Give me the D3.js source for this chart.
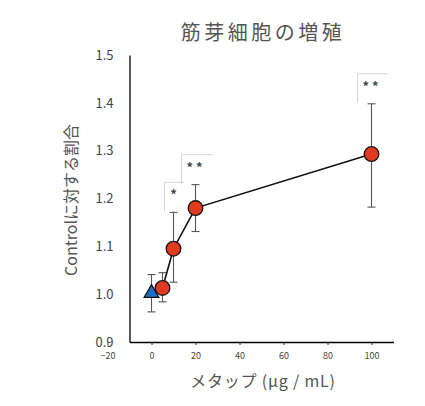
<!DOCTYPE html>
<html>
<head>
<meta charset="utf-8">
<script src="https://cdn.jsdelivr.net/npm/d3@7"></script>
<style>
  body { margin: 0; background: #fff; }
  text { font-family: "Noto Sans CJK JP", "Liberation Sans", sans-serif; }
</style>
</head>
<body>
<div id="plot"></div>
<script>
// data
const doses = [5, 10, 20, 100];
const means = [1.013, 1.095, 1.180, 1.293];
const errHi = [1.045, 1.171, 1.229, 1.398];
const errLo = [0.984, 1.025, 1.131, 1.182];
const signif = ["", "*", "* *", "* *"];

const controlX = 0;
const controlMean = 1.0;
const controlHi = 1.041;
const controlLo = 0.963;

const xTicks = [-20, 0, 20, 40, 60, 80, 100];
const yTicks = [0.9, 1.0, 1.1, 1.2, 1.3, 1.4, 1.5];

const w = 425;
const h = 406;

const x = d3.scaleLinear().domain([-10, 110]).range([129.5, 393.5]);
const y = d3.scaleLinear().domain([0.9, 1.5]).range([342, 55]);

const svg = d3.select("#plot")
  .append("svg")
  .attr("width", w)
  .attr("height", h);

//-------------------axes---------------------------
const xAxis = svg.append("g")
  .attr("transform", "translate(0," + y(0.9) + ")")
  .call(d3.axisBottom(x).tickValues(xTicks).tickSize(3).tickSizeOuter(0).tickFormat(d3.format("d")));
xAxis.select(".domain").attr("stroke", "#000").attr("stroke-width", 1.3);
xAxis.selectAll(".tick line").attr("stroke", "#333");
xAxis.selectAll("text").attr("font-size", 9).attr("fill", "#444")
  .attr("font-family", "Liberation Sans").attr("dy", "1.25em");

const yAxis = svg.append("g")
  .attr("transform", "translate(" + x(-10) + ",0)")
  .call(d3.axisLeft(y).tickValues(yTicks).tickSize(0).tickPadding(16).tickFormat(d3.format(".1f")));
yAxis.select(".domain").attr("stroke", "#000").attr("stroke-width", 1.3);
yAxis.selectAll("text").attr("font-size", 13).attr("fill", "#444")
  .attr("font-family", "Liberation Sans");

//-------------------labels---------------------------
svg.append("text")
  .attr("x", 263).attr("y", 40)
  .attr("text-anchor", "middle")
  .attr("font-size", 20)
  .attr("letter-spacing", 3.5)
  .attr("fill", "#555")
  .text("筋芽細胞の増殖");

svg.append("text")
  .attr("x", 263).attr("y", 387)
  .attr("text-anchor", "middle")
  .attr("font-size", 16)
  .attr("letter-spacing", 0.8)
  .attr("fill", "#555")
  .text("メタップ (µg / mL)");

svg.append("text")
  .attr("transform", "translate(77,200) rotate(-90)")
  .attr("text-anchor", "middle")
  .attr("font-size", 16)
  .attr("fill", "#555")
  .text("Controlに対する割合");

//-------------------error bars---------------------------
const bars = doses.map((d, i) => ({x: d, hi: errHi[i], lo: errLo[i]}));
bars.unshift({x: controlX, hi: controlHi, lo: controlLo});

const eb = svg.append("g").attr("stroke", "#555").attr("stroke-width", 1.1);
eb.selectAll(".stem").data(bars).enter().append("line")
  .attr("x1", d => x(d.x)).attr("x2", d => x(d.x))
  .attr("y1", d => y(d.hi)).attr("y2", d => y(d.lo));
eb.selectAll(".capHi").data(bars).enter().append("line")
  .attr("x1", d => x(d.x) - 4).attr("x2", d => x(d.x) + 4)
  .attr("y1", d => y(d.hi)).attr("y2", d => y(d.hi));
eb.selectAll(".capLo").data(bars).enter().append("line")
  .attr("x1", d => x(d.x) - 4).attr("x2", d => x(d.x) + 4)
  .attr("y1", d => y(d.lo)).attr("y2", d => y(d.lo));

//-------------------significance marks---------------------------
const marks = doses.map((d, i) => ({x: d, hi: errHi[i], s: signif[i]})).filter(d => d.s);
const mg = svg.append("g");
marks.forEach(d => {
  const cx = x(d.x);
  const top = y(d.hi) - 30;
  const wide = d.s.length > 1;
  const left = cx - (wide ? 14 : 9);
  const right = left + (wide ? 31 : 20);
  mg.append("path")
    .attr("d", "M" + left + "," + (top + 29) + "V" + top + "H" + right)
    .attr("fill", "none")
    .attr("stroke", "#ccc")
    .attr("stroke-width", 0.8);
  mg.append("text")
    .attr("x", wide ? cx - 1 : cx)
    .attr("y", top + 17)
    .attr("text-anchor", "middle")
    .attr("font-size", 13)
    .attr("font-weight", "bold")
    .attr("fill", "#444")
    .attr("font-family", "Liberation Sans")
    .text(d.s);
});

//-------------------line and markers---------------------------
const pts = doses.map((d, i) => [d, means[i]]);
svg.append("path")
  .datum(pts)
  .attr("d", d3.line().x(d => x(d[0])).y(d => y(d[1])))
  .attr("fill", "none")
  .attr("stroke", "#111")
  .attr("stroke-width", 1.6);

svg.append("path")
  .attr("d", d3.symbol().type(d3.symbolTriangle).size(95)())
  .attr("transform", "translate(" + x(controlX) + "," + (y(controlMean) - 1) + ")")
  .attr("fill", "#1f6cc4")
  .attr("stroke", "#111")
  .attr("stroke-width", 1.2);

svg.append("g")
  .selectAll("circle")
  .data(pts)
  .enter()
  .append("circle")
  .attr("cx", d => x(d[0]))
  .attr("cy", d => y(d[1]))
  .attr("r", 7.3)
  .attr("fill", "#e23a20")
  .attr("stroke", "#111")
  .attr("stroke-width", 1.3);
</script>
</body>
</html>
